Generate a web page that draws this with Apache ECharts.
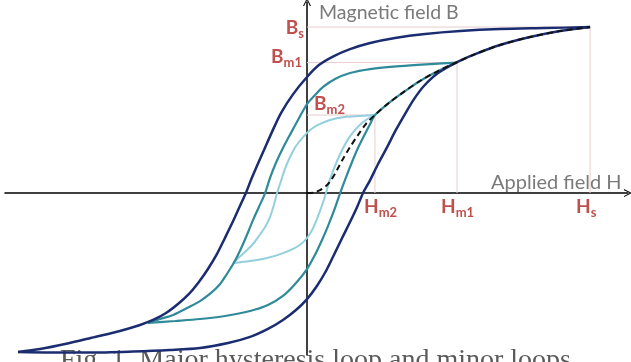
<!DOCTYPE html>
<html>
<head>
<meta charset="utf-8">
<style>
  html, body { margin: 0; padding: 0; background: #fff; }
  #chart { width: 631px; height: 362px; }
</style>
</head>
<body>
<div id="chart"></div>
<script src="https://cdn.jsdelivr.net/npm/echarts@6/dist/echarts.min.js"></script>
<script>
// H and B in % of saturation (Hs = Bs = 100)
var tipS = [100, 100], tipM1 = [53.0, 78.6], tipM2 = [24.0, 47.0];

var majorDown = [[100, 100], [84.1, 99.4], [68.2, 98.8], [54.1, 97.6], [41.7, 95.8], [31.1, 93.4],
  [22.3, 90.4], [15.2, 86.7], [9.5, 82.5], [4.2, 77.1], [0, 69.9], [-4.9, 59.6], [-9.2, 48.2],
  [-12.4, 36.7], [-15.2, 25.9], [-17.7, 16.3], [-19.8, 7.8], [-21.6, 0], [-23.7, -7.8],
  [-26.1, -16.9], [-29.0, -27.1], [-31.8, -36.7], [-35.0, -45.8], [-38.2, -53.6], [-41.7, -60.8],
  [-45.6, -66.9], [-49.8, -72.3], [-54.4, -76.5], [-59.0, -79.5], [-66.1, -83.1], [-74.9, -86.7],
  [-85.5, -91.0], [-94.3, -94.0], [-102.1, -95.8]];
var majorUp = [[-102.1, -95.8], [-90.8, -96.1], [-76.7, -96.1], [-61.5, -95.5], [-48.4, -94.6],
  [-37.8, -93.4], [-27.9, -90.4], [-20.1, -86.7], [-13.8, -81.9], [-8.5, -76.5], [-3.9, -70.5],
  [0, -63.9], [3.5, -56.0], [6.7, -47.0], [9.5, -37.3], [12.4, -27.1], [15.2, -17.5], [17.7, -8.4],
  [19.8, 0], [22.3, 7.8], [25.1, 17.5], [28.3, 27.7], [31.4, 38.0], [34.6, 47.6], [37.8, 56.6],
  [41.3, 64.5], [46.3, 72.3], [53.0, 78.9], [59.4, 83.7], [68.2, 89.2], [78.8, 94.0], [89.4, 97.6],
  [100, 100]];

var minor1Down = [[53.0, 78.6], [43.5, 77.7], [32.9, 76.5], [22.3, 74.7], [15.2, 72.3], [9.9, 68.7],
  [5.7, 63.9], [2.5, 58.4], [0, 53.6], [-2.8, 45.2], [-5.7, 36.1], [-8.5, 27.1], [-11.0, 18.1],
  [-13.1, 9.0], [-14.8, 0], [-17.0, -8.4], [-19.1, -16.3], [-20.8, -23.5], [-22.6, -30.7],
  [-24.4, -37.3], [-26.1, -42.8], [-28.3, -48.8], [-30.7, -54.8], [-33.9, -60.2], [-37.8, -65.1],
  [-42.4, -69.3], [-47.3, -73.5], [-51.9, -75.9], [-56.2, -78.3]];
var minor1Up = [[-56.2, -78.3], [-46.6, -77.1], [-37.8, -75.9], [-29.0, -74.1], [-20.1, -71.1],
  [-13.8, -67.5], [-8.5, -62.0], [-4.2, -54.8], [0, -45.8], [2.8, -37.3], [5.3, -28.3], [7.4, -19.9],
  [9.5, -10.8], [11.7, 0], [13.8, 9.6], [15.9, 18.7], [18.0, 27.1], [20.1, 34.3], [22.3, 41.6],
  [24.0, 47.0], [29.3, 54.8], [34.6, 61.4], [39.9, 67.5], [46.3, 73.5], [53.0, 78.6]];

var minor2Down = [[24.0, 47.0], [18.7, 46.4], [13.4, 45.8], [8.1, 44.0], [3.9, 41.0], [1.1, 38.0],
  [-1.4, 33.7], [-3.9, 28.3], [-6.0, 21.7], [-7.8, 14.5], [-9.2, 7.2], [-10.6, 0], [-11.7, -7.2],
  [-13.1, -14.5], [-14.8, -20.5], [-17.0, -25.9], [-19.4, -31.3], [-22.3, -36.1], [-24.7, -39.8],
  [-26.1, -42.2]];
var minor2Up = [[-26.1, -42.2], [-20.1, -41.0], [-14.1, -39.2], [-9.2, -36.7], [-4.9, -33.7],
  [-2.1, -30.7], [0, -27.1], [1.8, -22.3], [3.2, -16.9], [4.6, -10.8], [5.7, -5.4], [6.7, 0],
  [7.8, 6.6], [9.2, 13.3], [10.6, 19.3], [12.4, 25.9], [14.5, 32.5], [17.0, 38.0], [19.4, 42.2],
  [21.9, 45.2], [24.0, 47.0]];

var initial = [[0, 0], [2.5, 0.3], [4.6, 1.8], [6.7, 4.2], [8.5, 7.8], [10.6, 13.9], [12.7, 20.5],
  [15.2, 27.7], [18.0, 34.9], [20.8, 41.6], [24.0, 47.0], [29.3, 54.8], [34.6, 61.4], [39.9, 67.5],
  [46.3, 73.5], [53.0, 78.9], [59.4, 83.7], [68.2, 89.2], [78.8, 94.0], [89.4, 97.6], [100, 100]];

var navy = '#1b2d70', teal = '#2f8a99', light = '#93cfdd', red = '#c0504d', grey = '#7a7a7a';

function guide(t) { return [[0, t[1]], [t[0], t[1]], [t[0], 0]]; }
function branch(d, color, w) {
  return { type: 'line', data: d, smooth: 0.3, showSymbol: false, silent: true,
    lineStyle: { color: color, width: w } };
}
function rich() {
  return {
    b: { fontFamily: 'Lato', fontWeight: 'bold', fontSize: 19, fill: red, verticalAlign: 'bottom', padding: [0, 0, 3, 0] },
    s: { fontFamily: 'Lato', fontWeight: 'bold', fontSize: 13, fill: red, verticalAlign: 'bottom' }
  };
}

var chart = echarts.init(document.getElementById('chart'));
var arrow = 'path://M0,10 L5,0 L10,10 L8.6,10 L5,2.6 L1.4,10 Z';
var axisCommon = {
  type: 'value',
  axisLine: { onZero: true, symbol: ['none', arrow], symbolSize: [10, 8], lineStyle: { color: '#000', width: 1.5 } },
  axisTick: { show: false }, axisLabel: { show: false }, splitLine: { show: false }
};
chart.setOption({
  animation: false,
  grid: { left: 5, right: 3, top: 2, bottom: 7 },
  xAxis: Object.assign({ min: -106.7, max: 113.4 }, axisCommon),
  yAxis: Object.assign({ min: -97.6, max: 115.1 }, axisCommon),
  series: [
    { type: 'line', data: guide(tipS), showSymbol: false, silent: true, lineStyle: { color: '#e8cccc', width: 1 } },
    { type: 'line', data: guide(tipM1), showSymbol: false, silent: true, lineStyle: { color: '#e8cccc', width: 1 } },
    { type: 'line', data: guide(tipM2), showSymbol: false, silent: true, lineStyle: { color: '#e8cccc', width: 1 } },
    branch(minor2Down, light, 2), branch(minor2Up, light, 2),
    branch(minor1Down, teal, 2.2), branch(minor1Up, teal, 2.2),
    branch(majorDown, navy, 2.5), branch(majorUp, navy, 2.5),
    { type: 'line', data: initial, smooth: 0.3, showSymbol: false, silent: true,
      lineStyle: { color: '#111', width: 2, type: [6, 4] } }
  ],
  graphic: [
    { type: 'text', left: 319, top: 3, style: { text: 'Magnetic field B', font: '19.5px Lato', fill: grey } },
    { type: 'text', left: 491, top: 173, style: { text: 'Applied field H', font: '20px Lato', fill: grey } },
    { type: 'text', right: 327, top: 18, style: { text: '{b|B}{s|s}', rich: rich() } },
    { type: 'text', right: 329, top: 47, style: { text: '{b|B}{s|m1}', rich: rich() } },
    { type: 'text', left: 314, top: 94, style: { text: '{b|B}{s|m2}', rich: rich() } },
    { type: 'text', left: 364, top: 197, style: { text: '{b|H}{s|m2}', rich: rich() } },
    { type: 'text', left: 441, top: 197, style: { text: '{b|H}{s|m1}', rich: rich() } },
    { type: 'text', left: 576, top: 197, style: { text: '{b|H}{s|s}', rich: rich() } },
    { type: 'text', left: 'center', top: 347, style: { text: 'Fig. 1. Major hysteresis loop and minor loops',
      font: '28px "Liberation Serif"', fill: '#5a5a5a' } }
  ]
});
</script>
</body>
</html>
